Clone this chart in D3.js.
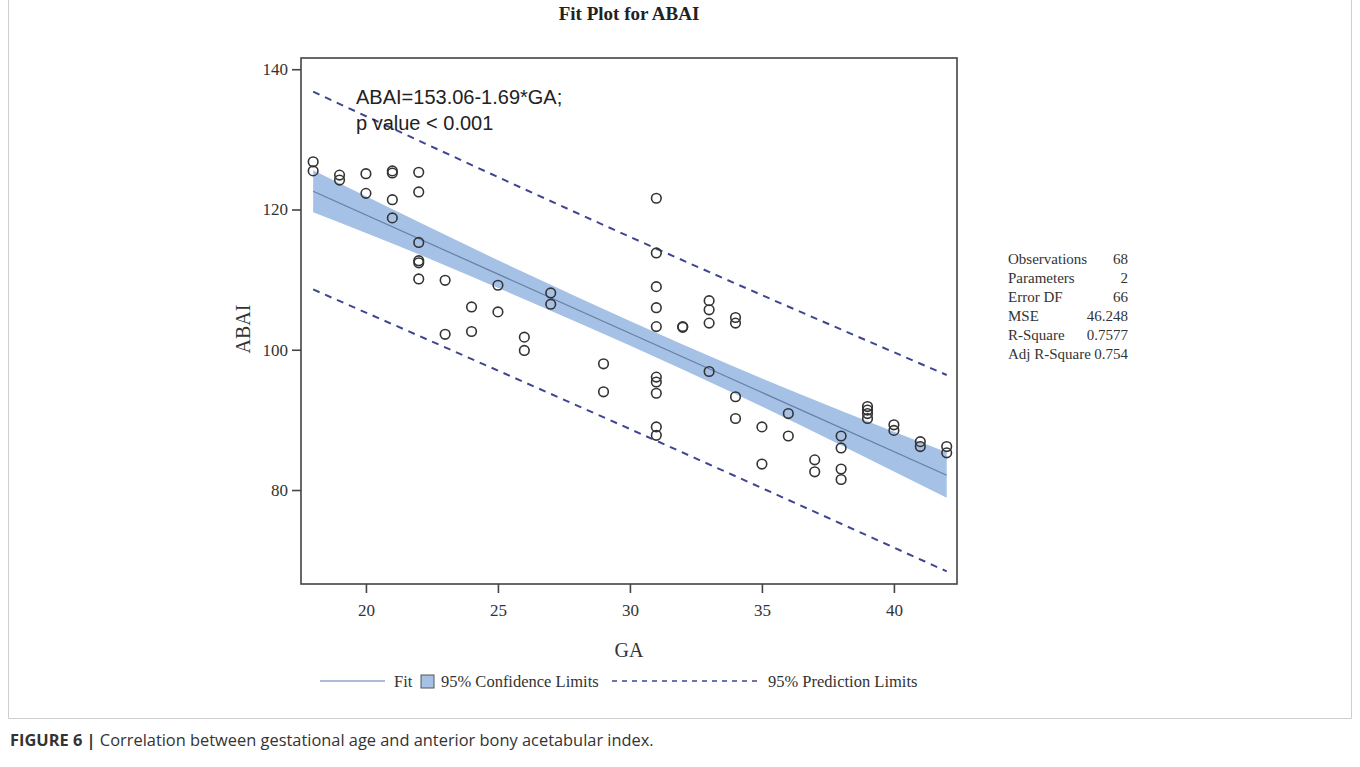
<!DOCTYPE html>
<html>
<head>
<meta charset="utf-8">
<script src="https://cdn.jsdelivr.net/npm/d3@7.9.0/dist/d3.min.js"></script>
<style>
  body { margin: 0; background: #fff; }
  svg { display: block; }
</style>
</head>
<body>
<svg width="1360" height="767"></svg>
<script>
// observations: gestational age (GA) and ABAI
const gaValues = [
  18, 18, 19, 19, 20, 20, 21, 21, 21, 21,
  22, 22, 22, 22, 22, 22, 23, 23, 24, 24,
  25, 25, 26, 26, 27, 27, 29, 29,
  31, 31, 31, 31, 31, 31, 31, 31, 31, 31,
  32, 32, 33, 33, 33, 33, 34, 34, 34, 34,
  35, 35, 36, 36, 37, 37, 38, 38, 38, 38,
  39, 39, 39, 39, 40, 40, 41, 41, 42, 42
];
const abaiValues = [
  126.8, 125.5, 124.9, 124.2, 125.1, 122.3, 125.5, 125.2, 121.4, 118.8,
  125.3, 122.5, 115.3, 112.7, 112.4, 110.1, 109.9, 102.2, 106.1, 102.6,
  109.2, 105.4, 101.8, 99.9, 108.1, 106.5, 98.0, 94.0,
  121.6, 113.8, 109.0, 106.0, 103.3, 96.1, 95.4, 93.8, 89.0, 87.8,
  103.2, 103.3, 107.0, 105.7, 103.8, 96.9, 104.6, 103.8, 93.3, 90.2,
  89.0, 83.7, 90.9, 87.7, 84.3, 82.6, 87.7, 86.0, 83.0, 81.5,
  91.9, 91.4, 90.9, 90.2, 89.3, 88.5, 86.9, 86.2, 86.2, 85.3
];

// fit line ends (ABAI = 153.06 - 1.69*GA)
const fitGA = [18, 42];
const fitValues = [122.6, 82.1];

// 95% confidence band, read at a few GA values
const bandGA = [18, 22, 26, 30, 34, 38, 42];
const confUpper = [125.6, 118.2, 111.0, 104.1, 97.5, 91.3, 85.4];
const confLower = [119.6, 113.6, 107.2, 100.6, 93.7, 86.4, 78.9];

// 95% prediction limits
const predGA = [18, 30, 42];
const predUpper = [136.8, 116.1, 96.4];
const predLower = [108.6, 88.7, 68.4];

const xTicks = [20, 25, 30, 35, 40];
const yTicks = [80, 100, 120, 140];

const statLabels = ["Observations", "Parameters", "Error DF", "MSE", "R-Square", "Adj R-Square"];
const statValues = ["68", "2", "66", "46.248", "0.7577", "0.754"];

const serif = "'Liberation Serif', 'Times New Roman', serif";
const sans = "'Liberation Sans', Arial, sans-serif";

const svg = d3.select("svg");

// outer figure border
svg.append("path")
  .attr("d", "M8.5,0 V718.5 H1351.5 V0")
  .attr("fill", "none")
  .attr("stroke", "#cfcfcf")
  .attr("stroke-width", 1);

const x = d3.scaleLinear().domain([17.54, 42.39]).range([301, 957]);
const y = d3.scaleLinear().domain([66.6, 141.6]).range([584, 58]);

// confidence band
const band = bandGA.map((g, i) => ({ ga: g, lo: confLower[i], hi: confUpper[i] }));
svg.append("path")
  .datum(band)
  .attr("fill", "#a6c1e6")
  .attr("d", d3.area()
    .x(d => x(d.ga))
    .y0(d => y(d.lo))
    .y1(d => y(d.hi))
    .curve(d3.curveMonotoneX));

// fit line
svg.append("path")
  .datum(fitGA.map((g, i) => [g, fitValues[i]]))
  .attr("fill", "none")
  .attr("stroke", "#6580a6")
  .attr("stroke-width", 1.2)
  .attr("d", d3.line().x(d => x(d[0])).y(d => y(d[1])));

// prediction limits
[predUpper, predLower].forEach(vals => {
  svg.append("path")
    .datum(predGA.map((g, i) => [g, vals[i]]))
    .attr("fill", "none")
    .attr("stroke", "#3f4590")
    .attr("stroke-width", 2)
    .attr("stroke-dasharray", "7,6")
    .attr("d", d3.line().x(d => x(d[0])).y(d => y(d[1])).curve(d3.curveMonotoneX));
});

// observations
svg.append("g")
  .selectAll("circle")
  .data(gaValues.map((g, i) => [g, abaiValues[i]]))
  .join("circle")
  .attr("cx", d => x(d[0]))
  .attr("cy", d => y(d[1]))
  .attr("r", 4.8)
  .attr("fill", "none")
  .attr("stroke", "#333")
  .attr("stroke-width", 1.6);

// frame
svg.append("rect")
  .attr("x", 301).attr("y", 58)
  .attr("width", 656).attr("height", 526)
  .attr("fill", "none")
  .attr("stroke", "#444")
  .attr("stroke-width", 1.6);

// axes
const xAxis = svg.append("g")
  .attr("transform", "translate(0,584)")
  .call(d3.axisBottom(x).tickValues(xTicks).tickSize(9).tickPadding(11));
const yAxis = svg.append("g")
  .attr("transform", "translate(301,0)")
  .call(d3.axisLeft(y).tickValues(yTicks).tickSize(9).tickPadding(4));
[xAxis, yAxis].forEach(a => {
  a.select(".domain").remove();
  a.selectAll("line").attr("stroke", "#444").attr("stroke-width", 1.6);
  a.selectAll("text")
    .attr("fill", "#333")
    .style("font-family", serif)
    .style("font-size", "17px");
});

// title and axis labels
svg.append("text")
  .attr("x", 629).attr("y", 20)
  .attr("text-anchor", "middle")
  .style("font-family", serif)
  .style("font-size", "19px")
  .style("font-weight", "bold")
  .attr("fill", "#222")
  .text("Fit Plot for ABAI");

svg.append("text")
  .attr("x", 629).attr("y", 657)
  .attr("text-anchor", "middle")
  .style("font-family", serif)
  .style("font-size", "20px")
  .attr("fill", "#333")
  .text("GA");

svg.append("text")
  .attr("transform", "translate(250,329) rotate(-90)")
  .attr("text-anchor", "middle")
  .style("font-family", serif)
  .style("font-size", "20px")
  .attr("fill", "#333")
  .text("ABAI");

// equation annotation
svg.append("text")
  .attr("x", 356).attr("y", 104)
  .style("font-family", sans)
  .style("font-size", "20px")
  .attr("fill", "#222")
  .text("ABAI=153.06-1.69*GA;");
svg.append("text")
  .attr("x", 356).attr("y", 130)
  .style("font-family", sans)
  .style("font-size", "20px")
  .attr("fill", "#222")
  .text("p value < 0.001");

// statistics table
const stats = svg.append("g")
  .style("font-family", serif)
  .style("font-size", "15px")
  .attr("fill", "#333");
statLabels.forEach((lab, i) => {
  stats.append("text").attr("x", 1008).attr("y", 264 + i * 19).text(lab);
  stats.append("text").attr("x", 1128).attr("y", 264 + i * 19)
    .attr("text-anchor", "end").text(statValues[i]);
});

// legend
const leg = svg.append("g")
  .style("font-family", serif)
  .style("font-size", "16.5px")
  .attr("fill", "#333");
leg.append("line")
  .attr("x1", 320).attr("x2", 385).attr("y1", 681).attr("y2", 681)
  .attr("stroke", "#8ea6c8").attr("stroke-width", 1.5);
leg.append("text").attr("x", 394).attr("y", 687).text("Fit");
leg.append("rect")
  .attr("x", 421).attr("y", 675).attr("width", 13).attr("height", 13)
  .attr("fill", "#a6c1e6").attr("stroke", "#555").attr("stroke-width", 1);
leg.append("text").attr("x", 441).attr("y", 687).text("95% Confidence Limits");
leg.append("line")
  .attr("x1", 612).attr("x2", 757).attr("y1", 681).attr("y2", 681)
  .attr("stroke", "#3f4590").attr("stroke-width", 1.5)
  .attr("stroke-dasharray", "5,5");
leg.append("text").attr("x", 768).attr("y", 687).text("95% Prediction Limits");

// caption
const cap = svg.append("text")
  .attr("x", 10).attr("y", 746)
  .style("font-family", "'Open Sans', 'Noto Sans', sans-serif")
  .style("font-size", "16.4px")
  .attr("fill", "#333");
cap.append("tspan").style("font-weight", "bold").text("FIGURE 6 | ");
cap.append("tspan").text("Correlation between gestational age and anterior bony acetabular index.");
</script>
</body>
</html>
